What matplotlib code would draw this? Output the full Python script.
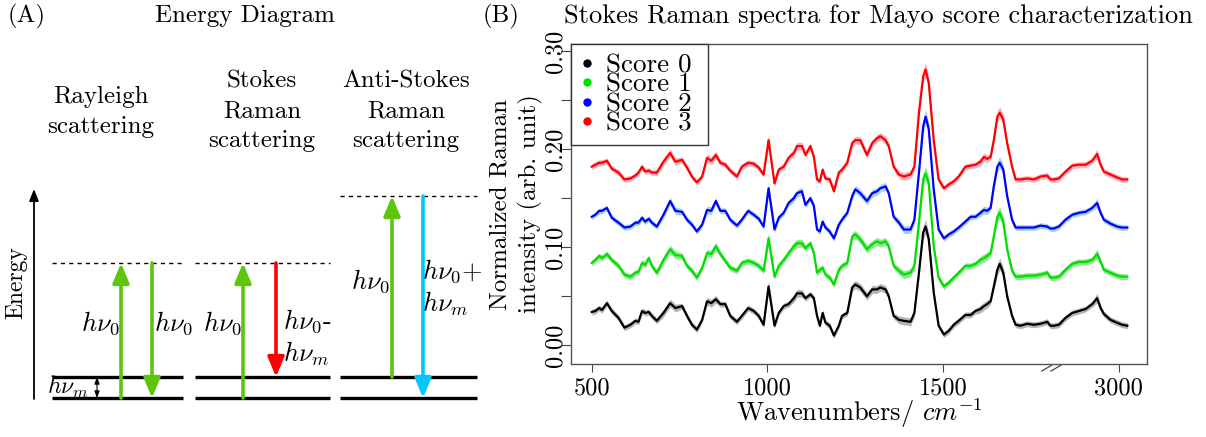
import matplotlib
matplotlib.use("Agg")
import matplotlib.pyplot as plt
from matplotlib.lines import Line2D

plt.rcParams["font.family"] = ["cmr10", "DejaVu Serif"]
plt.rcParams["mathtext.fontset"] = "cm"
plt.rcParams["axes.formatter.use_mathtext"] = True

# ---- data (panel B) ----
wavenumbers = [500, 510, 521, 529, 543, 557, 576, 593, 610, 624,
               633, 643, 652, 662, 671, 685, 704, 723, 738, 757,
               771, 785, 799, 814, 828, 840, 853, 866, 880, 894,
               913, 927, 945, 961, 975, 989, 1003,
               1020, 1032, 1046, 1060, 1075, 1084, 1098, 1108, 1122, 1132,
               1141, 1149, 1157, 1165, 1177, 1189, 1203, 1212, 1227, 1241,
               1250, 1264, 1283, 1298, 1312, 1321, 1336, 1345, 1359, 1374,
               1388, 1407, 1418, 1431, 1443, 1450, 1459, 1473, 1487, 1502,
               1516, 1530, 1544, 1563, 1578, 1592, 1606, 1616, 1625, 1635,
               1644, 1654, 1661, 1671, 1682, 1696, 1706, 1720, 1739, 1758,
               1777, 1796,
               2805, 2815, 2829, 2848, 2867, 2886, 2905, 2924, 2938, 2948,
               2957, 2976, 2995, 3009, 3024]

score0 = [0.034, 0.035, 0.038, 0.036, 0.043, 0.035, 0.028, 0.018, 0.021, 0.025,
          0.024, 0.035, 0.033, 0.034, 0.030, 0.025, 0.033, 0.043, 0.038, 0.040,
          0.030, 0.021, 0.016, 0.026, 0.045, 0.043, 0.047, 0.042, 0.042, 0.030,
          0.024, 0.030, 0.038, 0.035, 0.030, 0.021, 0.060,
          0.020, 0.033, 0.040, 0.042, 0.048, 0.053, 0.053, 0.048, 0.052, 0.048,
          0.030, 0.020, 0.033, 0.023, 0.020, 0.010, 0.020, 0.030, 0.033, 0.059,
          0.062, 0.059, 0.050, 0.057, 0.057, 0.059, 0.057, 0.050, 0.030, 0.026,
          0.025, 0.024, 0.033, 0.074, 0.115, 0.121, 0.108, 0.054, 0.020, 0.011,
          0.015, 0.021, 0.025, 0.031, 0.031, 0.035, 0.037, 0.040, 0.042, 0.045,
          0.060, 0.077, 0.083, 0.074, 0.050, 0.030, 0.021, 0.020, 0.022, 0.021,
          0.022, 0.024,
          0.020, 0.020, 0.021, 0.028, 0.033, 0.035, 0.037, 0.042, 0.048, 0.038,
          0.032, 0.026, 0.023, 0.021, 0.020]

score1 = [0.084, 0.087, 0.091, 0.089, 0.093, 0.087, 0.081, 0.072, 0.070, 0.074,
          0.075, 0.084, 0.082, 0.089, 0.081, 0.074, 0.087, 0.098, 0.092, 0.091,
          0.081, 0.076, 0.069, 0.079, 0.094, 0.093, 0.101, 0.093, 0.086, 0.079,
          0.076, 0.084, 0.086, 0.084, 0.081, 0.076, 0.109,
          0.070, 0.081, 0.087, 0.094, 0.101, 0.104, 0.104, 0.099, 0.104, 0.094,
          0.074, 0.077, 0.079, 0.072, 0.069, 0.062, 0.077, 0.081, 0.084, 0.111,
          0.113, 0.108, 0.098, 0.103, 0.106, 0.104, 0.106, 0.101, 0.081, 0.076,
          0.072, 0.074, 0.081, 0.125, 0.169, 0.175, 0.165, 0.101, 0.069, 0.060,
          0.064, 0.069, 0.074, 0.081, 0.081, 0.083, 0.087, 0.089, 0.091, 0.094,
          0.111, 0.131, 0.135, 0.126, 0.098, 0.076, 0.070, 0.070, 0.071, 0.071,
          0.072, 0.074,
          0.069, 0.069, 0.070, 0.077, 0.083, 0.085, 0.085, 0.087, 0.093, 0.085,
          0.077, 0.074, 0.071, 0.070, 0.070]

score2 = [0.131, 0.133, 0.137, 0.137, 0.140, 0.130, 0.125, 0.120, 0.121, 0.125,
          0.125, 0.130, 0.126, 0.129, 0.125, 0.121, 0.133, 0.147, 0.137, 0.136,
          0.128, 0.123, 0.116, 0.123, 0.138, 0.137, 0.147, 0.137, 0.137, 0.128,
          0.122, 0.128, 0.137, 0.133, 0.129, 0.121, 0.160,
          0.118, 0.130, 0.135, 0.145, 0.150, 0.155, 0.157, 0.143, 0.150, 0.142,
          0.118, 0.116, 0.126, 0.120, 0.116, 0.109, 0.123, 0.128, 0.135, 0.152,
          0.159, 0.155, 0.147, 0.155, 0.157, 0.160, 0.162, 0.155, 0.131, 0.125,
          0.118, 0.118, 0.128, 0.176, 0.223, 0.233, 0.220, 0.159, 0.118, 0.109,
          0.113, 0.116, 0.120, 0.126, 0.131, 0.131, 0.135, 0.138, 0.137, 0.140,
          0.162, 0.182, 0.186, 0.179, 0.152, 0.128, 0.120, 0.120, 0.120, 0.120,
          0.122, 0.121,
          0.119, 0.119, 0.121, 0.128, 0.133, 0.135, 0.136, 0.140, 0.145, 0.135,
          0.128, 0.124, 0.121, 0.120, 0.120]

score3 = [0.182, 0.184, 0.186, 0.186, 0.188, 0.180, 0.176, 0.169, 0.170, 0.173,
          0.176, 0.182, 0.177, 0.178, 0.176, 0.176, 0.187, 0.196, 0.187, 0.189,
          0.181, 0.172, 0.166, 0.172, 0.191, 0.188, 0.194, 0.186, 0.184, 0.178,
          0.172, 0.182, 0.186, 0.185, 0.181, 0.174, 0.209,
          0.165, 0.179, 0.182, 0.191, 0.196, 0.203, 0.203, 0.194, 0.203, 0.192,
          0.169, 0.167, 0.179, 0.170, 0.169, 0.157, 0.176, 0.179, 0.186, 0.206,
          0.209, 0.209, 0.194, 0.206, 0.211, 0.213, 0.209, 0.203, 0.182, 0.174,
          0.172, 0.174, 0.182, 0.237, 0.274, 0.281, 0.267, 0.209, 0.169, 0.160,
          0.164, 0.167, 0.172, 0.182, 0.183, 0.184, 0.187, 0.192, 0.190, 0.192,
          0.209, 0.233, 0.237, 0.230, 0.206, 0.182, 0.169, 0.169, 0.170, 0.169,
          0.172, 0.173,
          0.169, 0.169, 0.170, 0.177, 0.183, 0.184, 0.184, 0.188, 0.195, 0.184,
          0.177, 0.174, 0.171, 0.169, 0.169]

# standard deviation band (approx., same for all scores)
spread = [0.003, 0.003, 0.003, 0.003, 0.003, 0.003, 0.003, 0.003, 0.003, 0.003,
          0.003, 0.003, 0.003, 0.003, 0.003, 0.003, 0.004, 0.004, 0.004, 0.003,
          0.003, 0.003, 0.003, 0.003, 0.004, 0.004, 0.004, 0.003, 0.003, 0.003,
          0.003, 0.003, 0.003, 0.003, 0.003, 0.003, 0.006,
          0.003, 0.003, 0.003, 0.003, 0.004, 0.004, 0.004, 0.003, 0.003, 0.003,
          0.003, 0.003, 0.003, 0.003, 0.003, 0.003, 0.003, 0.003, 0.003, 0.004,
          0.004, 0.004, 0.004, 0.004, 0.004, 0.004, 0.004, 0.003, 0.003, 0.004,
          0.004, 0.004, 0.004, 0.005, 0.007, 0.007, 0.006, 0.004, 0.003, 0.003,
          0.003, 0.003, 0.003, 0.003, 0.003, 0.003, 0.004, 0.004, 0.004, 0.003,
          0.004, 0.006, 0.006, 0.005, 0.004, 0.003, 0.003, 0.003, 0.003, 0.003,
          0.003, 0.003,
          0.003, 0.003, 0.003, 0.003, 0.003, 0.003, 0.003, 0.003, 0.005, 0.003,
          0.003, 0.003, 0.003, 0.003, 0.003]

score_labels = ["Score 0", "Score 1", "Score 2", "Score 3"]
line_colors = ["black", "#00e000", "#0000ff", "#ff0000"]
band_colors = ["#b4b4b4", "#8ee68e", "#a8d4ea", "#f6b3c0"]

tick_values = [500, 1000, 1500, 3000]
BREAK_SHIFT = 1000  # 2800-3000 region is drawn right after 1800


def axis_pos(w):
    return w - BREAK_SHIFT if w > 2000 else w


fig = plt.figure(figsize=(12.06, 4.37), dpi=100)

# ---------------- panel A : energy diagram (pixel coordinates) ----------------
axA = fig.add_axes([0, 0, 0.4, 1])
axA.set_xlim(0, 482.4)
axA.set_ylim(437, 0)
axA.axis("off")

FS = 18
axA.text(8, 16, "(A)", fontsize=FS, ha="left", va="center")
axA.text(245, 16, "Energy Diagram", fontsize=FS, ha="center", va="center")
axA.text(101, 112, "Rayleigh\nscattering", fontsize=FS, ha="center", va="center", linespacing=1.45)
axA.text(262, 111, "Stokes\nRaman\nscattering", fontsize=FS, ha="center", va="center", linespacing=1.45)
axA.text(406, 111, "Anti-Stokes\nRaman\nscattering", fontsize=FS, ha="center", va="center", linespacing=1.45)

ground, vib = 398, 377
groups = [(52, 183, 263), (195, 330, 263), (340, 477, 196)]
for x0, x1, virt in groups:
    axA.plot([x0, x1], [ground, ground], color="black", lw=2.4, solid_capstyle="butt")
    axA.plot([x0, x1], [vib, vib], color="black", lw=2.4, solid_capstyle="butt")
    axA.plot([x0, x1], [virt, virt], color="black", lw=1.0, dashes=(3, 3))

# energy axis
axA.annotate("", xy=(34, 189), xytext=(34, 399),
             arrowprops=dict(arrowstyle="-|>,head_length=0.5,head_width=0.2",
                             color="black", lw=1.3, mutation_scale=14,
                             shrinkA=0, shrinkB=0))
axA.text(16, 283, "Energy", fontsize=17, rotation=90, ha="center", va="center")

green, red, cyan = "#5ec40c", "#ff0000", "#00c8ff"
arrows = [(121, ground, 263, green), (152, 263, ground, green),
          (243, ground, 263, green), (276, 263, vib, red),
          (392, vib, 196, green), (423, 196, ground, cyan)]
for x, ys, ye, c in arrows:
    axA.annotate("", xy=(x, ye), xytext=(x, ys),
                 arrowprops=dict(arrowstyle="-|>,head_length=0.6,head_width=0.25",
                                 color=c, lw=2.6, mutation_scale=20,
                                 shrinkA=0, shrinkB=0))

axA.annotate("", xy=(97, vib), xytext=(97, ground),
             arrowprops=dict(arrowstyle="<|-|>,head_length=0.4,head_width=0.15",
                             color="black", lw=0.8, mutation_scale=10,
                             shrinkA=0, shrinkB=0))

MS = 19
axA.text(68, 387, r"$h\nu_m$", fontsize=MS - 2, ha="center", va="center")
axA.text(100, 323, r"$h\nu_0$", fontsize=MS, ha="center", va="center")
axA.text(173, 323, r"$h\nu_0$", fontsize=MS, ha="center", va="center")
axA.text(222, 323, r"$h\nu_0$", fontsize=MS, ha="center", va="center")
axA.text(370, 281, r"$h\nu_0$", fontsize=MS, ha="center", va="center")
axA.text(283, 338, "$h\\nu_0$-\n$h\\nu_m$", fontsize=MS, ha="left", va="center", linespacing=1.2)
axA.text(422, 288, "$h\\nu_0$+\n$h\\nu_m$", fontsize=MS, ha="left", va="center", linespacing=1.2)

# ---------------- panel B : spectra ----------------
ax = fig.add_axes([0.4735, 0.167, 0.4776, 0.7323])
xpos = [axis_pos(w) for w in wavenumbers]
series = [score0, score1, score2, score3]
for vals, lc, bc in zip(series, line_colors, band_colors):
    lo = [v - s for v, s in zip(vals, spread)]
    hi = [v + s for v, s in zip(vals, spread)]
    ax.fill_between(xpos, lo, hi, color=bc, lw=0)
    ax.plot(xpos, vals, color=lc, lw=1.6)

ax.set_xlim(441, 2080)
ax.set_ylim(-0.019, 0.307)
ax.set_xticks([axis_pos(t) for t in tick_values])
ax.set_xticklabels([str(t) for t in tick_values])
yt = [0.0, 0.05, 0.10, 0.15, 0.20, 0.25, 0.30]
ax.set_yticks(yt)
ax.set_yticklabels(["0.00", "", "0.10", "", "0.20", "", "0.30"],
                   rotation=90, va="center")
ax.tick_params(labelsize=17.5, length=6, color="#444444", direction="out")
ax.tick_params(axis="y", length=7, pad=-4)
for sp in ax.spines.values():
    sp.set_color("#555555")
    sp.set_linewidth(1.0)

ax.set_xlabel(r"Wavenumbers/ $cm^{-1}$", fontsize=19, labelpad=-2)
ax.set_ylabel("Normalized Raman\nintensity (arb. unit)", fontsize=18, labelpad=1,
              linespacing=1.35)

# axis-break marks on the bottom spine
bx = (axis_pos(2800) - 441) / (2080 - 441)
for dx in (-0.012, 0.004):
    ax.plot([bx + dx, bx + dx + 0.018], [-0.022, -0.003], transform=ax.transAxes,
            color="#444444", lw=0.9, clip_on=False)

handles = [Line2D([], [], marker="o", ls="none", color=c, markersize=5) for c in line_colors]
leg = ax.legend(handles, score_labels, loc="upper left", fontsize=19.5,
                bbox_to_anchor=(0, 0, 0.238, 1), mode="expand",
                handlelength=0.5, handletextpad=0.45, labelspacing=-0.17,
                borderpad=0.35, borderaxespad=0, fancybox=False,
                framealpha=1, edgecolor="#333333")
leg.get_frame().set_linewidth(1.0)

fig.text(483 / 1206, 1 - 16 / 437, "(B)", fontsize=FS, ha="left", va="center")
fig.text(878 / 1206, 1 - 16 / 437, "Stokes Raman spectra for Mayo score characterization",
         fontsize=19, ha="center", va="center")

fig.savefig("out.png", dpi=100)
